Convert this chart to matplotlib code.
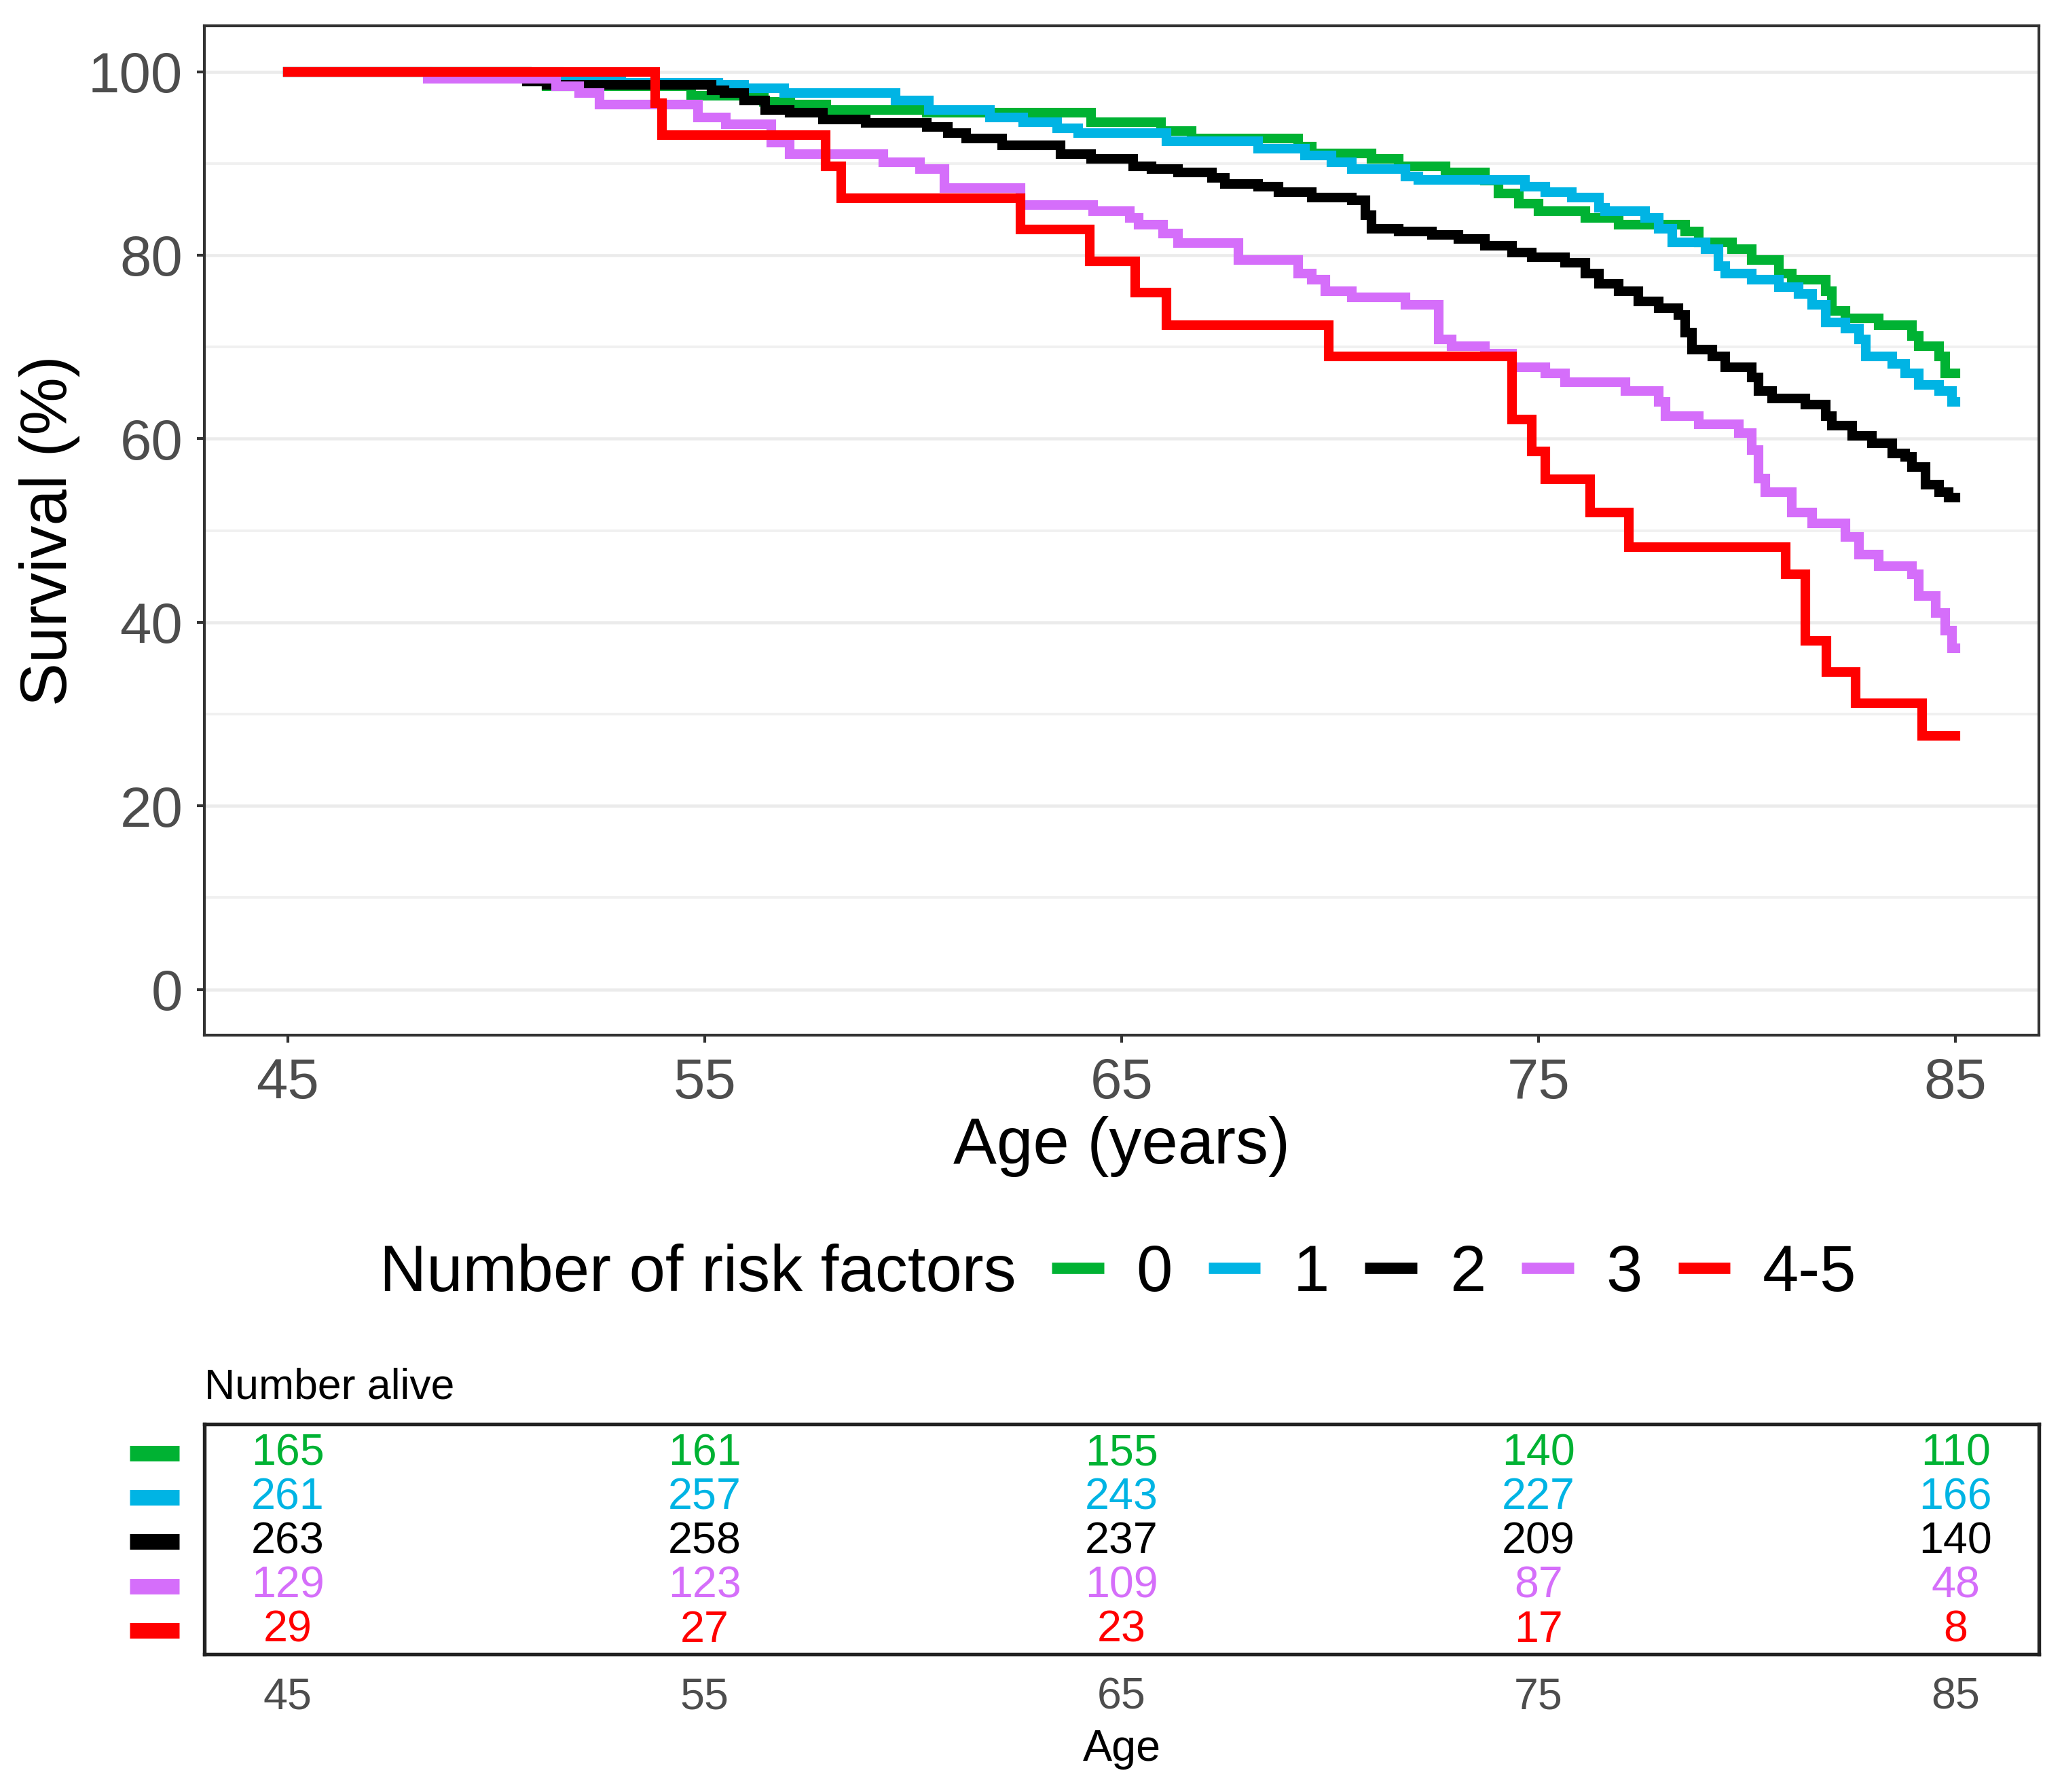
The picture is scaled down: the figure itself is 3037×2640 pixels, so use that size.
import matplotlib
matplotlib.use("Agg")
import matplotlib.pyplot as plt
from matplotlib.lines import Line2D
from matplotlib.transforms import blended_transform_factory

plt.rcParams['font.family'] = ['Liberation Sans', 'DejaVu Sans']

# Kaplan-Meier step values (age, survival %)
ages_0 = [45, 50.73, 51.20, 54.68, 56.42, 57.06, 57.91, 60.32, 64.26, 65.95, 66.68, 69.24, 69.56,
          71.00, 71.64, 72.76, 73.72, 74.04, 74.52, 75.00, 76.12, 76.92, 78.52, 78.84, 79.64, 80.12,
          80.76, 81.08, 81.88, 82.04, 82.36, 83.16, 83.96, 84.12, 84.60, 84.76, 85.0]
surv_0 = [100, 98.9, 98.4, 97.4, 96.7, 96.4, 95.8, 95.5, 94.5, 93.5, 92.7, 91.8, 91.1,
          90.5, 89.7, 89.0, 88.1, 86.7, 85.6, 84.8, 84.1, 83.3, 82.6, 81.4, 80.7, 79.5,
          78.0, 77.3, 76.1, 73.9, 73.1, 72.4, 71.2, 70.1, 69.0, 67.1, 67.1]

ages_1 = [45, 51.50, 53.00, 55.32, 55.95, 56.90, 59.58, 60.38, 61.84, 62.64, 63.45, 63.96, 66.08,
          68.28, 69.40, 70.04, 70.52, 71.80, 72.12, 74.68, 75.16, 75.80, 76.44, 76.60, 77.56, 77.88,
          78.20, 79.00, 79.32, 79.48, 80.12, 80.76, 81.24, 81.56, 81.88, 82.36, 82.68, 82.84, 83.48,
          83.80, 84.12, 84.60, 84.92, 85.0]
surv_1 = [100, 99.2, 98.8, 98.6, 98.2, 97.7, 96.9, 95.8, 95.0, 94.5, 93.8, 93.3, 92.4,
          91.6, 90.9, 90.1, 89.4, 88.6, 88.2, 87.5, 86.9, 86.3, 85.2, 84.8, 84.1, 82.9,
          81.4, 80.7, 78.8, 78.0, 77.3, 76.5, 75.8, 74.6, 72.7, 72.0, 70.8, 69.0, 68.2,
          67.1, 65.9, 65.2, 64.0, 64.0]

ages_2 = [45, 50.73, 51.20, 55.16, 55.47, 55.95, 56.45, 57.03, 57.84, 58.86, 60.32, 60.83, 61.27,
          62.14, 63.53, 64.26, 65.28, 65.72, 66.36, 67.16, 67.48, 68.28, 68.76, 69.56, 70.52, 70.84,
          71.00, 71.64, 72.44, 73.08, 73.72, 74.36, 74.84, 75.64, 76.12, 76.44, 76.92, 77.40, 77.88,
          78.36, 78.52, 78.68, 79.16, 79.48, 80.12, 80.28, 80.60, 81.40, 81.88, 82.04, 82.52, 83.00,
          83.48, 83.80, 83.96, 84.28, 84.60, 84.84, 85.0]
surv_2 = [100, 98.9, 98.6, 98.0, 97.7, 96.9, 95.8, 95.5, 94.8, 94.4, 94.0, 93.3, 92.7,
          92.0, 91.0, 90.5, 89.7, 89.4, 89.0, 88.4, 87.8, 87.5, 86.9, 86.3, 86.0, 84.4,
          82.9, 82.6, 82.2, 81.8, 81.0, 80.3, 79.8, 79.2, 78.0, 76.9, 76.1, 75.0, 74.2,
          73.5, 71.6, 69.7, 69.0, 67.8, 66.7, 65.2, 64.4, 63.7, 62.5, 61.4, 60.3, 59.5,
          58.4, 58.0, 56.9, 55.0, 54.2, 53.6, 53.6]

ages_3 = [45, 48.35, 51.44, 51.99, 52.47, 54.84, 55.50, 56.59, 57.03, 59.29, 60.17, 60.75, 62.57,
          64.32, 65.19, 65.41, 66.00, 66.36, 67.80, 69.24, 69.56, 69.88, 70.52, 71.80, 72.60, 72.92,
          73.72, 74.36, 75.16, 75.64, 77.08, 77.88, 78.04, 78.84, 79.80, 80.12, 80.28, 80.44, 81.08,
          81.56, 82.36, 82.68, 83.16, 83.96, 84.12, 84.52, 84.76, 84.92, 85.0]
surv_3 = [100, 99.2, 98.4, 97.7, 96.4, 95.0, 94.3, 92.3, 91.0, 90.1, 89.4, 87.3, 85.5,
          84.8, 84.1, 83.3, 82.4, 81.3, 79.5, 78.0, 77.3, 76.1, 75.4, 74.6, 70.8, 70.1,
          69.3, 67.8, 67.1, 66.2, 65.2, 64.0, 62.5, 61.6, 60.6, 58.8, 55.7, 54.2, 52.0,
          50.8, 49.3, 47.4, 46.1, 45.2, 42.9, 41.0, 39.1, 37.2, 37.2]

ages_4 = [45, 53.81, 53.97, 57.90, 58.27, 62.57, 64.24, 65.33, 66.08, 69.96, 74.36, 74.84, 75.16,
          76.23, 77.16, 80.92, 81.40, 81.90, 82.60, 84.20, 85.0]
surv_4 = [100, 96.6, 93.1, 89.7, 86.2, 82.8, 79.3, 75.9, 72.4, 69.0, 62.1, 58.6, 55.6,
          52.0, 48.2, 45.2, 38.0, 34.6, 31.2, 27.6, 27.6]

groups = ['0', '1', '2', '3', '4-5']
colors = ['#00B233', '#00B4E4', '#000000', '#D56EFA', '#FF0000']
all_ages = [ages_0, ages_1, ages_2, ages_3, ages_4]
all_surv = [surv_0, surv_1, surv_2, surv_3, surv_4]

# number alive table
table_ages = [45, 55, 65, 75, 85]
n_0 = [165, 161, 155, 140, 110]
n_1 = [261, 257, 243, 227, 166]
n_2 = [263, 258, 237, 209, 140]
n_3 = [129, 123, 109, 87, 48]
n_4 = [29, 27, 23, 17, 8]
all_n = [n_0, n_1, n_2, n_3, n_4]

W, H = 3037, 2640
fig = plt.figure(figsize=(W / 300, H / 300), dpi=300)

ax = fig.add_axes([0.0991, 0.4223, 0.8897, 0.5633])
for a, s, c in zip(all_ages, all_surv, colors):
    ax.plot(a, s, drawstyle='steps-post', color=c, lw=3.4, solid_joinstyle='miter')

ax.set_xlim(43, 87)
ax.set_ylim(-5, 105)
ax.set_xticks(table_ages)
ax.set_yticks([0, 20, 40, 60, 80, 100])
ax.set_yticks([10, 30, 50, 70, 90], minor=True)
ax.grid(axis='y', which='major', color='#EBEBEB', lw=1.1)
ax.grid(axis='y', which='minor', color='#F0F0F0', lw=0.9)
ax.set_axisbelow(True)
for sp in ax.spines.values():
    sp.set_color('#333333')
    sp.set_linewidth(1.0)
ax.tick_params(axis='both', which='major', length=2.6, width=1.0, color='#333333',
               labelcolor='#4D4D4D', labelsize=20, pad=5)
ax.tick_params(axis='y', which='minor', length=0)
ax.set_ylabel('Survival (%)', fontsize=23)
ax.set_xlabel('Age (years)', fontsize=23)
ax.yaxis.set_label_coords(-0.0677, 0.5)
ax.xaxis.set_label_coords(0.5, -0.080)

# legend below the plot
leg_y = 1 - 1877 / H
fig.text(559 / W, leg_y, 'Number of risk factors', fontsize=23, va='center', ha='left')
handles = [Line2D([], [], color=c, lw=4, solid_capstyle='butt') for c in colors]
fig.legend(handles, groups, loc='center left', bbox_to_anchor=(1549 / W, leg_y), ncol=5,
           frameon=False, fontsize=23, handlelength=0.8, handletextpad=0.5,
           columnspacing=0.55, borderpad=0, borderaxespad=0)

# risk table
ax_t = fig.add_axes([0.0991, 0.0769, 0.8897, 0.1284])
ax_t.set_xlim(43, 87)
ax_t.set_ylim(4.54, -0.66)
ax_t.set_xticks(table_ages)
ax_t.set_yticks([])
ax_t.tick_params(axis='x', length=0, pad=8, labelsize=15.5, labelcolor='#4D4D4D')
for sp in ax_t.spines.values():
    sp.set_color('#222222')
    sp.set_linewidth(1.3)
key_tr = blended_transform_factory(ax_t.transAxes, ax_t.transData)
for i, (n, c) in enumerate(zip(all_n, colors)):
    for age, v in zip(table_ages, n):
        ax_t.text(age, i, str(v), ha='center', va='center', color=c, fontsize=15.5)
    ax_t.plot([-0.0407, -0.0137], [i, i], transform=key_tr, clip_on=False,
              color=c, lw=5.5, solid_capstyle='butt')
ax_t.set_title('Number alive', loc='left', fontsize=15, pad=9)
ax_t.set_xlabel('Age', fontsize=15.5)
ax_t.xaxis.set_label_coords(0.5, -0.325)

fig.savefig('out.png', dpi=300)
